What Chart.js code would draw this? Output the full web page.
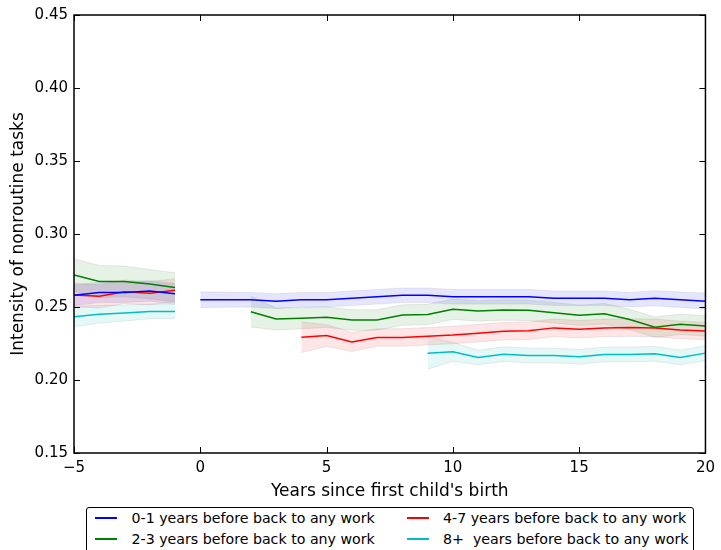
<!DOCTYPE html>
<html>
<head>
<meta charset="utf-8">
<script src="https://cdn.jsdelivr.net/npm/chart.js@4.4.0/dist/chart.umd.min.js"></script>
<style>
  html, body { margin: 0; padding: 0; background: #fff; }
  #wrap { position: relative; width: 721px; height: 550px; overflow: hidden; }
  #legend {
    position: absolute; left: 86px; top: 507px; width: 606px; height: 60px;
    border: 1px solid #000; border-radius: 3px; background: #fff;
    font-family: "DejaVu Sans", sans-serif; font-size: 14.2px; line-height: 16px; color: #000;
  }
  #legend .item { position: absolute; white-space: pre; }
  #legend .swatch { position: absolute; height: 2px; width: 22px; }
</style>
</head>
<body>
<div id="wrap">
  <canvas id="chart1" width="721" height="550"></canvas>
  <div id="legend"></div>
</div>
<script>
// years
var preYears = [-5, -4, -3, -2, -1];
var postYears = [0, 1, 2, 3, 4, 5, 6, 7, 8, 9, 10, 11, 12, 13, 14, 15, 16, 17, 18, 19, 20];

var seriesNames = ['0-1 years before back to any work', '2-3 years before back to any work',
                   '4-7 years before back to any work', '8+  years before back to any work'];

// 0-1 years
var bluePre = [0.258, 0.260, 0.260, 0.261, 0.259];
var bluePreCI = [0.007, 0.007, 0.007, 0.007, 0.007];
var bluePost = [0.255, 0.255, 0.255, 0.254, 0.255, 0.255, 0.256, 0.257, 0.258, 0.258, 0.257,
                0.257, 0.257, 0.257, 0.256, 0.256, 0.256, 0.255, 0.256, 0.255, 0.254];
var bluePostCI = [0.0053, 0.0052, 0.005, 0.005, 0.005, 0.005, 0.005, 0.005, 0.005, 0.005, 0.005,
                  0.005, 0.005, 0.005, 0.005, 0.005, 0.005, 0.005, 0.0052, 0.0053, 0.0055];

// 2-3 years (post starts at year 2)
var greenPre = [0.272, 0.2675, 0.2675, 0.2657, 0.2634];
var greenPreCI = [0.011, 0.011, 0.0105, 0.010, 0.010];
var greenPost = [0.2468, 0.2418, 0.2423, 0.2430, 0.2411, 0.2411, 0.2445, 0.2448, 0.2485, 0.2473,
                 0.2480, 0.2477, 0.2461, 0.2443, 0.2454, 0.2414, 0.2361, 0.2382, 0.2370];
var greenPostCI = [0.0105, 0.0075, 0.0072, 0.007, 0.007, 0.007, 0.007, 0.007, 0.007, 0.007,
                   0.007, 0.007, 0.007, 0.007, 0.007, 0.007, 0.007, 0.007, 0.007];

// 4-7 years (post starts at year 4)
var redPre = [0.2582, 0.2573, 0.2604, 0.2595, 0.2614];
var redPreCI = [0.008, 0.008, 0.008, 0.008, 0.008];
var redPost = [0.2293, 0.2304, 0.2261, 0.2291, 0.2291, 0.2300, 0.2308, 0.2321, 0.2334, 0.2338,
               0.2357, 0.2348, 0.2357, 0.2359, 0.2357, 0.2343, 0.2336];
var redPostCI = [0.0105, 0.0075, 0.0065, 0.006, 0.006, 0.006, 0.006, 0.006, 0.006, 0.006,
                 0.006, 0.006, 0.006, 0.006, 0.006, 0.006, 0.006];

// 8+ years (post starts at year 9)
var cyanPre = [0.2434, 0.2450, 0.2459, 0.2470, 0.2470];
var cyanPreCI = [0.007, 0.006, 0.0055, 0.005, 0.005];
var cyanPost = [0.2184, 0.2193, 0.2154, 0.2177, 0.2168, 0.2168, 0.2159, 0.2175, 0.2175, 0.2179,
                0.2154, 0.2184];
var cyanPostCI = [0.011, 0.0065, 0.005, 0.005, 0.005, 0.005, 0.005, 0.005, 0.005, 0.005, 0.005, 0.005];

var yTicks = [0.15, 0.20, 0.25, 0.30, 0.35, 0.40, 0.45];
var xTicks = [-5, 0, 5, 10, 15, 20];

var lineColors = ['#0000ff', '#008000', '#ff0000', '#00bfbf'];
var bandColors = ['rgba(0,0,255,0.1)', 'rgba(0,128,0,0.1)', 'rgba(255,0,0,0.1)', 'rgba(0,191,191,0.1)'];

var segments = [
    { c: 0, xs: preYears, ys: bluePre, ci: bluePreCI },
    { c: 0, xs: postYears, ys: bluePost, ci: bluePostCI },
    { c: 1, xs: preYears, ys: greenPre, ci: greenPreCI },
    { c: 1, xs: postYears.slice(2), ys: greenPost, ci: greenPostCI },
    { c: 2, xs: preYears, ys: redPre, ci: redPreCI },
    { c: 2, xs: postYears.slice(4), ys: redPost, ci: redPostCI },
    { c: 3, xs: preYears, ys: cyanPre, ci: cyanPreCI },
    { c: 3, xs: postYears.slice(9), ys: cyanPost, ci: cyanPostCI }
];

function pts(xs, ys, off, sign) {
    return xs.map(function(x, i) { return { x: x, y: ys[i] + (off ? sign * off[i] : 0) }; });
}

var datasets = [];
segments.forEach(function(s) {
    var upIdx = datasets.length;
    datasets.push({ data: pts(s.xs, s.ys, s.ci, 1), borderColor: 'rgba(120,120,120,0.15)', borderWidth: 1,
                    pointRadius: 0, fill: false, order: 2 });
    datasets.push({ data: pts(s.xs, s.ys, s.ci, -1), borderColor: 'rgba(120,120,120,0.15)', borderWidth: 1,
                    pointRadius: 0, fill: upIdx, backgroundColor: bandColors[s.c], order: 2 });
});
segments.forEach(function(s) {
    datasets.push({ data: pts(s.xs, s.ys), borderColor: lineColors[s.c], borderWidth: 1.5,
                    pointRadius: 0, fill: false, order: 1 });
});

var fontFam = '"DejaVu Sans", sans-serif';

// frame + inward ticks like the matplotlib classic look
var framePlugin = {
    id: 'frame',
    afterDraw: function(chart) {
        var c = chart.ctx, a = chart.chartArea, xs = chart.scales.x, ys = chart.scales.y;
        c.save();
        c.strokeStyle = '#000';
        c.lineWidth = 1;
        c.beginPath();
        xTicks.forEach(function(t) {
            var px = Math.round(xs.getPixelForValue(t)) + 0.5;
            c.moveTo(px, a.bottom); c.lineTo(px, a.bottom - 6);
            c.moveTo(px, a.top); c.lineTo(px, a.top + 6);
        });
        yTicks.forEach(function(t) {
            var py = Math.round(ys.getPixelForValue(t)) + 0.5;
            c.moveTo(a.left, py); c.lineTo(a.left + 6, py);
            c.moveTo(a.right, py); c.lineTo(a.right - 6, py);
        });
        c.stroke();
        c.lineWidth = 1.5;
        c.strokeRect(a.left, a.top, a.right - a.left, a.bottom - a.top);
        c.restore();
    }
};

var ctx1 = document.getElementById('chart1').getContext('2d');
new Chart(ctx1, {
    type: 'line',
    plugins: [framePlugin],
    data: { datasets: datasets },
    options: {
        responsive: false,
        animation: false,
        layout: { padding: { left: 0, top: 14, right: 14, bottom: 47 } },
        plugins: { legend: { display: false }, tooltip: { enabled: false } },
        elements: { line: { tension: 0 } },
        scales: {
            x: {
                type: 'linear', min: -5, max: 20,
                afterBuildTicks: function(s) { s.ticks = xTicks.map(function(v) { return { value: v }; }); },
                afterFit: function(s) { s.height = 50; },
                grid: { display: false, drawTicks: false },
                border: { display: false },
                ticks: {
                    padding: 6, color: '#000', font: { family: fontFam, size: 15 },
                    callback: function(v) { return String(v).replace('-', '\u2212'); }
                },
                title: { display: true, text: "Years since first child's birth", color: '#000',
                         font: { family: fontFam, size: 17 }, padding: { top: 0, bottom: 1 } }
            },
            y: {
                min: 0.15, max: 0.45,
                afterBuildTicks: function(s) { s.ticks = yTicks.map(function(v) { return { value: v }; }); },
                afterFit: function(s) { s.width = 74; },
                grid: { display: false, drawTicks: false },
                border: { display: false },
                ticks: {
                    padding: 6, color: '#000', font: { family: fontFam, size: 15 },
                    callback: function(v) { return v.toFixed(2); }
                },
                title: { display: true, text: 'Intensity of nonroutine tasks', color: '#000',
                         font: { family: fontFam, size: 17 }, padding: { top: 8, bottom: 0 } }
            }
        }
    }
});

// legend below the axis title, two columns
var leg = document.getElementById('legend');
var legPos = [[0, 0], [0, 1], [1, 0], [1, 1]];
seriesNames.forEach(function(name, i) {
    var col = legPos[i][0], row = legPos[i][1];
    var sw = document.createElement('div');
    sw.className = 'swatch';
    sw.style.background = lineColors[i];
    sw.style.left = (col ? 320 : 8) + 'px';
    sw.style.top = (row ? 30 : 9) + 'px';
    leg.appendChild(sw);
    var tx = document.createElement('div');
    tx.className = 'item';
    tx.textContent = name;
    tx.style.left = (col ? 356 : 44.5) + 'px';
    tx.style.top = (row ? 23 : 2) + 'px';
    leg.appendChild(tx);
});
</script>
</body>
</html>
